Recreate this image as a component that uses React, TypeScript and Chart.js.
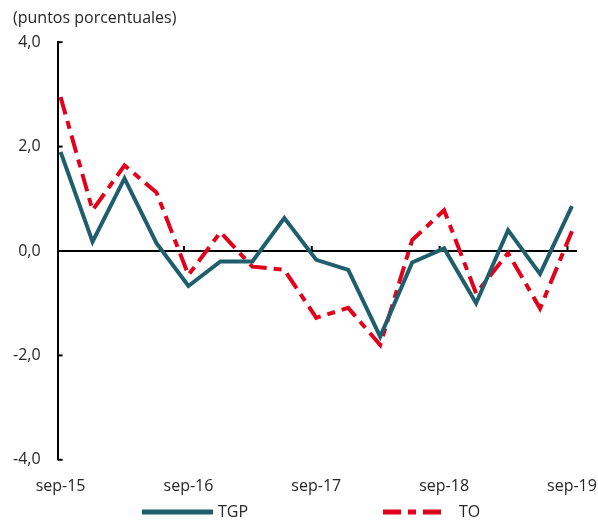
import { useEffect, useRef } from 'react';
import { Chart, registerables } from 'chart.js';

Chart.register(...registerables);

const QUARTERS = ['sep-15', 'dic-15', 'mar-16', 'jun-16', 'sep-16', 'dic-16', 'mar-17', 'jun-17', 'sep-17', 'dic-17', 'mar-18', 'jun-18', 'sep-18', 'dic-18', 'mar-19', 'jun-19', 'sep-19'];
const TGP = [1.9, 0.18, 1.39, 0.15, -0.67, -0.2, -0.2, 0.63, -0.17, -0.36, -1.64, -0.22, 0.05, -1.0, 0.4, -0.44, 0.86];
const TO = [2.95, 0.78, 1.64, 1.12, -0.46, 0.36, -0.3, -0.36, -1.28, -1.09, -1.8, 0.21, 0.78, -0.81, -0.04, -1.1, 0.38];
const Y_TICKS = [-4, -2, 0, 2, 4];
const SERIES_NAMES = ['TGP', 'TO'];
const TITLE = '(puntos porcentuales)';

const FONT = 'Open Sans';
const TEXT_COLOR = '#262626';
const TGP_COLOR = '#1F5E6D';
const TO_COLOR = '#E2001A';
const TO_DASH = [18, 7, 8, 7];
const TICK_SHIFT = -0.14;

const decorPlugin = {
  id: 'decor',
  beforeDatasetsDraw(chart: any) {
    const { ctx, chartArea, scales } = chart;
    const y0 = scales.y.getPixelForValue(0);
    ctx.save();
    ctx.strokeStyle = '#000';
    ctx.lineWidth = 2;
    ctx.beginPath();
    ctx.moveTo(chartArea.left, y0);
    ctx.lineTo(chartArea.right, y0);
    ctx.stroke();
    Y_TICKS.forEach((v) => {
      const py = scales.y.getPixelForValue(v);
      ctx.beginPath();
      ctx.moveTo(chartArea.left, py);
      ctx.lineTo(chartArea.left + 5, py);
      ctx.stroke();
    });
    scales.x.ticks.forEach((t: any) => {
      if (t.value === 0) return;
      const px = scales.x.getPixelForValue(t.value + TICK_SHIFT);
      ctx.beginPath();
      ctx.moveTo(px, y0);
      ctx.lineTo(px, y0 - 5);
      ctx.stroke();
    });
    ctx.restore();
  },
  afterDraw(chart: any) {
    const { ctx } = chart;
    const y = chart.height - 10;
    const items = [
      { x0: 142, x1: 213, tx: 218 },
      { x0: 383, x1: 446, tx: 459 },
    ];
    ctx.save();
    items.forEach((it, i) => {
      const ds = chart.data.datasets[i];
      ctx.strokeStyle = ds.borderColor;
      ctx.lineWidth = 5;
      ctx.setLineDash(ds.borderDash || []);
      ctx.beginPath();
      ctx.moveTo(it.x0, y);
      ctx.lineTo(it.x1, y);
      ctx.stroke();
      ctx.setLineDash([]);
      ctx.fillStyle = TEXT_COLOR;
      ctx.font = `16px "${FONT}"`;
      ctx.textBaseline = 'middle';
      ctx.textAlign = 'left';
      ctx.fillText(ds.label, it.tx, y);
    });
    ctx.restore();
  },
};

const fitX = (s: any) => {
  s.paddingLeft = 0;
  s.paddingRight = 0;
  s.height -= s.options.ticks.padding;
};
const fitY = (s: any) => {
  s.paddingTop = 0;
  s.paddingBottom = 0;
  s.width -= s.options.ticks.padding;
};

export default function App() {
  const ref = useRef<HTMLCanvasElement>(null);

  useEffect(() => {
    document.body.style.margin = '0';
    const chart = new Chart(ref.current!, {
      type: 'line',
      data: {
        datasets: [
          {
            label: SERIES_NAMES[0],
            data: TGP.map((y, i) => ({ x: i, y })),
            borderColor: TGP_COLOR,
            borderWidth: 4,
            pointRadius: 0,
            tension: 0,
          },
          {
            label: SERIES_NAMES[1],
            data: TO.map((y, i) => ({ x: i, y })),
            borderColor: TO_COLOR,
            borderWidth: 4,
            borderDash: TO_DASH,
            pointRadius: 0,
            tension: 0,
          },
        ],
      },
      options: {
        animation: false,
        responsive: true,
        maintainAspectRatio: false,
        layout: { padding: { left: 13, right: 21, top: 0, bottom: 26 } },
        plugins: {
          legend: { display: false },
          tooltip: { enabled: false },
          title: {
            display: true,
            text: TITLE,
            align: 'start',
            color: TEXT_COLOR,
            font: { family: FONT, size: 16, weight: 'normal' },
            padding: { top: 9, bottom: 14 },
          },
        },
        scales: {
          x: {
            type: 'linear',
            min: -0.094,
            max: 16.157,
            afterBuildTicks: (s: any) => {
              s.ticks = QUARTERS.map((q, i) => ({ value: i, q })).filter((t) => t.q.startsWith('sep')).map((t) => ({ value: t.value }));
            },
            afterFit: fitX,
            ticks: {
              callback: (v: any) => QUARTERS[Math.round(v)],
              padding: 17,
              maxRotation: 0,
              autoSkip: false,
              color: TEXT_COLOR,
              font: { family: FONT, size: 16 },
            },
            grid: { display: false, drawTicks: false },
            border: { display: false },
          },
          y: {
            min: -4,
            max: 4,
            afterBuildTicks: (s: any) => {
              s.ticks = Y_TICKS.map((v) => ({ value: v }));
            },
            afterFit: fitY,
            ticks: {
              callback: (v: any) => Number(v).toFixed(1).replace('.', ','),
              padding: 17,
              color: TEXT_COLOR,
              font: { family: FONT, size: 16 },
            },
            grid: { display: true, drawOnChartArea: false, drawTicks: false },
            border: { display: true, color: '#000', width: 2 },
          },
        },
      },
      plugins: [decorPlugin],
    });
    return () => chart.destroy();
  }, []);

  return (
    <div style={{ width: 598, height: 522, position: 'relative' }}>
      <canvas ref={ref} />
    </div>
  );
}
